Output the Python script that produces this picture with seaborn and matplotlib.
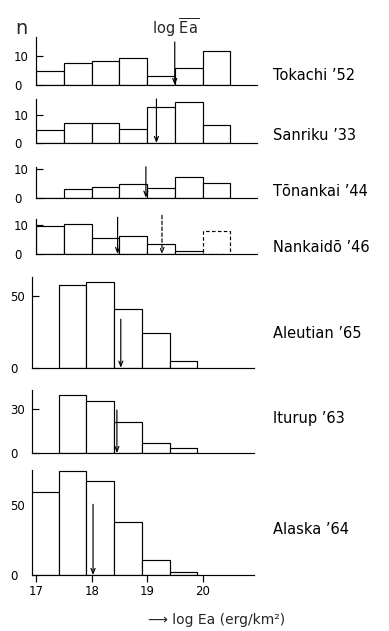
import numpy as np
import pandas as pd
import matplotlib
matplotlib.use("Agg")
import matplotlib.pyplot as plt
import seaborn as sns

sns.set_theme(style="ticks")
plt.rcParams['font.family'] = ['DejaVu Sans']

W, H = 389, 631

# histogram bin edges (log Ea)
upper_edges = [17.0, 17.5, 18.0, 18.5, 19.0, 19.5, 20.0, 20.5]
lower_edges = [17.4, 17.9, 18.4, 18.9, 19.4, 19.9]
alaska_edges = [16.9, 17.4, 17.9, 18.4, 18.9, 19.4, 19.9]

# counts per bin
tokachi = [4.7, 7.5, 8.3, 9.2, 3.2, 6.0, 11.7]
sanriku = [4.5, 7.1, 7.0, 4.9, 12.8, 14.6, 6.5]
tonankai = [0.0, 3.0, 3.6, 4.7, 3.3, 7.1, 5.0]
nankaido = [9.8, 10.3, 5.4, 6.3, 3.3, 1.1]
nankaido_dashed = [7.9]
aleutian = [57.3, 60.0, 40.8, 24.2, 4.9]
iturup = [39.0, 35.0, 21.0, 6.7, 3.5]
alaska = [59.0, 74.5, 67.5, 37.8, 11.0, 1.8]

# mean log Ea marked by the arrows, and the height each arrow starts from
mean_log_ea = [19.5, 19.17, 18.98, 18.47, 18.52, 18.45, 18.02]
arrow_tops = [14.8, 15.5, 10.8, 12.7, 33.8, 29.1, 50.5]
nankaido_alt_mean = 19.27
nankaido_alt_top = 13.4

labels = ["Tokachi \u201952", "Sanriku \u201933", "T\u014dnankai \u201944",
          "Nankaid\u014d \u201946", "Aleutian \u201965", "Iturup \u201963",
          "Alaska \u201964"]
yticks = [[0, 10], [0, 10], [0, 10], [0, 10], [0, 50], [0, 30], [0, 50]]

# panel geometry in pixels: left, right, top, baseline, ymax
geom = [
    (36, 257, 37, 85, 16.5),
    (36, 257, 99, 143, 15.5),
    (36, 257, 167, 197.7, 10.7),
    (36, 257, 219, 254, 12.1),
    (32, 254, 277, 367.7, 63.2),
    (32, 254, 390, 453, 42.7),
    (32, 254, 470, 575, 75.0),
]
label_y = [76, 135, 191, 248, 333, 419, 530]

series = [
    (upper_edges, tokachi), (upper_edges, sanriku), (upper_edges, tonankai),
    (upper_edges[:7], nankaido), (lower_edges, aleutian),
    (lower_edges, iturup), (alaska_edges, alaska),
]

LW = 0.85
ARROW = "->,head_length=0.3,head_width=0.12"


def draw_hist(ax, edges, counts, **kw):
    e = np.asarray(edges, dtype=float)
    df = pd.DataFrame({"logEa": (e[:-1] + e[1:]) / 2, "n": counts})
    sns.histplot(data=df, x="logEa", weights="n", bins=list(e), ax=ax,
                 color="white", edgecolor="black", linewidth=LW, alpha=1, **kw)


fig = plt.figure(figsize=(W / 100, H / 100), dpi=100)
fig.patch.set_facecolor("white")

for i, ((edges, counts), (l, r, t, b, ymax)) in enumerate(zip(series, geom)):
    ax = fig.add_axes([l / W, 1 - b / H, (r - l) / W, (b - t) / H])
    ax.set_facecolor("white")
    draw_hist(ax, edges, counts)
    if i == 3:
        draw_hist(ax, upper_edges[6:8], nankaido_dashed, linestyle=(0, (3, 2)))
        ax.annotate("", xy=(nankaido_alt_mean, 0), xytext=(nankaido_alt_mean, nankaido_alt_top),
                    arrowprops=dict(arrowstyle=ARROW, color="black", lw=LW,
                                    linestyle=(0, (3, 2)), shrinkA=0, shrinkB=0),
                    annotation_clip=False)
    ax.annotate("", xy=(mean_log_ea[i], 0), xytext=(mean_log_ea[i], arrow_tops[i]),
                arrowprops=dict(arrowstyle=ARROW, color="black", lw=LW,
                                shrinkA=0, shrinkB=0),
                annotation_clip=False)

    x0 = 17.0 if l == 36 else 16.92
    ax.set_xlim(x0, x0 + (r - l) / 55.5)
    ax.set_ylim(0, ymax)
    ax.set_xlabel("")
    ax.set_ylabel("")
    sns.despine(ax=ax)
    for s in ax.spines.values():
        s.set_linewidth(LW)
        s.set_color("black")
    ax.set_yticks(yticks[i])
    ax.set_yticklabels([str(v) for v in yticks[i]], ha="left")
    ax.tick_params(axis="y", direction="in", length=5, width=LW, pad=16,
                   labelsize=8.5, colors="black")
    if i == 6:
        ax.set_xticks([17, 18, 19, 20])
        ax.tick_params(axis="x", direction="out", length=5, width=LW, pad=2,
                       labelsize=8.5, colors="black")
    else:
        ax.set_xticks([])
    fig.text(273 / W, 1 - label_y[i] / H, labels[i], ha="left", va="center",
             fontsize=10.5, color="black")

fig.text(15 / W, 1 - 29 / H, "n", ha="left", va="center", fontsize=14)
fig.text(152 / W, 1 - 28 / H, r"log $\overline{\mathrm{Ea}}$", ha="left",
         va="center", fontsize=10.5)
fig.text(148 / W, 1 - 620 / H, "\u27f6 log Ea (erg/km\u00b2)", ha="left",
         va="center", fontsize=10)

fig.savefig("out.png", dpi=100, facecolor="white")
